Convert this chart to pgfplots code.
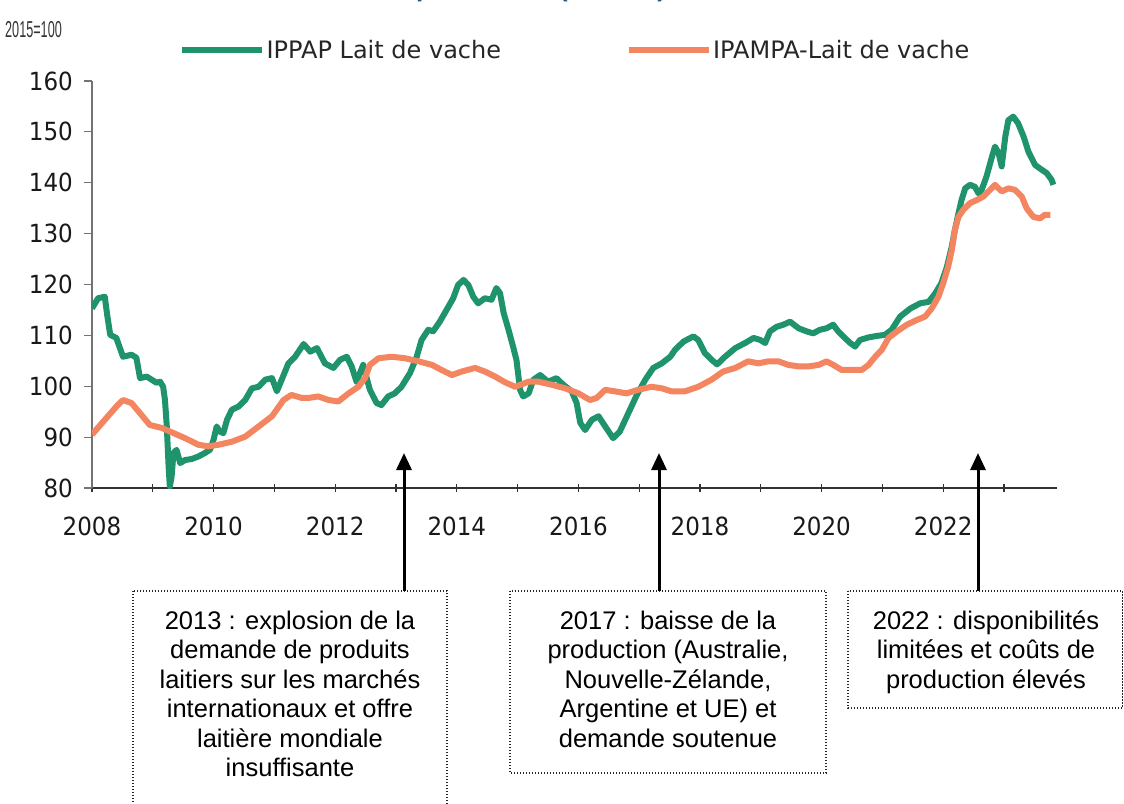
\documentclass[border=0pt]{standalone}
\usepackage{pgfplots}
\pgfplotsset{compat=1.18}
\usepackage{fontspec}
\setmainfont{Liberation Sans}
\newfontfamily\tickfont[FakeStretch=0.92]{DejaVu Sans}
\newfontfamily\legfont{DejaVu Sans}
\newfontfamily\unitfont[FakeStretch=0.55]{Liberation Sans}
\newfontfamily\titlefont{Liberation Sans}
\usetikzlibrary{arrows.meta}
\definecolor{cgreen}{RGB}{30,147,108}
\definecolor{corange}{RGB}{243,134,96}
\definecolor{ctitle}{RGB}{30,90,130}

\pgfplotstableread{
x y
2008.00 115.3
2008.10 117.3
2008.21 117.6
2008.25 114.0
2008.30 110.1
2008.40 109.5
2008.51 105.8
2008.65 106.2
2008.73 105.6
2008.79 101.6
2008.90 101.9
2008.98 101.3
2009.06 100.7
2009.12 100.9
2009.17 99.9
2009.20 97.3
2009.23 92.1
2009.26 84.2
2009.28 80.3
2009.31 82.3
2009.34 86.9
2009.39 87.5
2009.45 84.9
2009.53 85.5
2009.64 85.7
2009.75 86.2
2009.86 86.9
2009.94 87.5
2010.00 89.5
2010.05 92.1
2010.10 91.1
2010.16 90.8
2010.22 93.4
2010.30 95.4
2010.41 96.0
2010.52 97.3
2010.63 99.6
2010.74 99.9
2010.85 101.3
2010.96 101.6
2011.04 99.0
2011.12 101.3
2011.23 104.5
2011.34 105.8
2011.48 108.3
2011.59 106.8
2011.70 107.5
2011.83 104.5
2011.97 103.6
2012.08 105.2
2012.19 105.8
2012.27 103.9
2012.35 100.9
2012.46 104.2
2012.57 99.3
2012.68 96.7
2012.76 96.3
2012.87 98.0
2012.98 98.6
2013.09 99.9
2013.23 102.6
2013.34 105.8
2013.42 109.1
2013.53 111.1
2013.61 110.8
2013.72 112.7
2013.83 115.0
2013.94 117.3
2014.02 119.9
2014.11 120.9
2014.19 119.9
2014.27 117.6
2014.35 116.3
2014.46 117.3
2014.57 117.0
2014.65 119.3
2014.71 118.3
2014.77 114.4
2014.85 111.1
2014.92 108.0
2014.98 105.2
2015.04 99.3
2015.09 98.0
2015.18 98.6
2015.26 101.3
2015.37 102.2
2015.50 100.9
2015.64 101.6
2015.75 100.3
2015.89 99.0
2015.97 96.7
2016.03 92.8
2016.11 91.4
2016.22 93.4
2016.33 94.1
2016.44 92.1
2016.57 89.8
2016.68 91.1
2016.82 94.7
2016.96 98.3
2017.10 101.3
2017.23 103.6
2017.37 104.5
2017.51 105.8
2017.59 107.2
2017.73 108.8
2017.89 109.8
2017.97 109.1
2018.08 106.5
2018.19 105.2
2018.28 104.3
2018.41 105.8
2018.58 107.5
2018.74 108.5
2018.88 109.5
2018.99 109.1
2019.07 108.5
2019.15 110.8
2019.26 111.7
2019.37 112.1
2019.48 112.7
2019.62 111.4
2019.75 110.8
2019.86 110.4
2019.97 111.1
2020.08 111.4
2020.19 112.1
2020.27 110.8
2020.38 109.5
2020.47 108.5
2020.55 107.8
2020.63 109.1
2020.77 109.6
2020.91 109.9
2021.04 110.1
2021.15 111.1
2021.29 113.7
2021.46 115.3
2021.62 116.3
2021.76 116.6
2021.87 118.3
2021.97 120.3
2022.06 123.5
2022.14 127.5
2022.19 130.7
2022.25 134.0
2022.30 136.6
2022.36 138.9
2022.44 139.6
2022.52 139.2
2022.58 137.9
2022.63 138.6
2022.71 141.2
2022.80 145.1
2022.85 147.1
2022.91 145.8
2022.96 143.2
2023.02 149.1
2023.07 152.3
2023.15 153.0
2023.23 151.7
2023.32 149.1
2023.40 146.1
2023.51 143.5
2023.59 142.8
2023.70 141.9
2023.78 140.6
2023.81 139.6
}\ippap

\pgfplotstableread{
x y
2008.00 90.5
2008.21 93.4
2008.40 96.0
2008.51 97.3
2008.65 96.7
2008.79 94.7
2008.95 92.4
2009.15 91.8
2009.34 90.8
2009.53 89.8
2009.75 88.5
2009.91 88.2
2010.08 88.5
2010.30 89.1
2010.52 90.1
2010.74 92.1
2010.96 94.1
2011.15 97.3
2011.28 98.3
2011.45 97.7
2011.56 97.7
2011.72 98.0
2011.89 97.3
2012.05 97.0
2012.22 98.6
2012.38 99.9
2012.49 101.6
2012.57 104.2
2012.71 105.5
2012.93 105.8
2013.15 105.5
2013.37 104.9
2013.59 104.2
2013.75 103.2
2013.92 102.2
2014.08 102.9
2014.30 103.6
2014.46 102.9
2014.63 101.9
2014.79 100.8
2014.96 99.9
2015.18 100.9
2015.34 100.9
2015.56 100.3
2015.78 99.6
2016.00 98.6
2016.19 97.3
2016.30 97.7
2016.44 99.3
2016.60 99.0
2016.79 98.6
2016.98 99.3
2017.20 99.9
2017.37 99.6
2017.53 99.0
2017.75 99.0
2017.97 99.9
2018.19 101.3
2018.38 102.9
2018.58 103.6
2018.79 104.9
2018.96 104.5
2019.12 104.9
2019.29 104.9
2019.45 104.2
2019.62 103.9
2019.78 103.9
2019.95 104.2
2020.08 104.9
2020.19 104.2
2020.33 103.2
2020.49 103.2
2020.66 103.2
2020.77 104.2
2020.88 105.8
2020.99 107.2
2021.10 109.5
2021.24 110.8
2021.40 112.1
2021.56 113.0
2021.70 113.7
2021.81 115.3
2021.92 117.6
2022.00 120.3
2022.08 123.5
2022.14 126.8
2022.19 130.7
2022.25 133.3
2022.33 134.7
2022.44 136.0
2022.55 136.6
2022.66 137.3
2022.77 138.6
2022.85 139.6
2022.96 138.3
2023.07 138.9
2023.18 138.6
2023.29 137.3
2023.37 135.0
2023.48 133.3
2023.59 133.0
2023.67 133.7
2023.76 133.7
}\ipampa

\begin{document}
\begin{tikzpicture}
\useasboundingbox (0pt,0pt) rectangle (1124pt,-803pt);
% title (mostly cut off at the top of the picture)
\node[anchor=base east, inner sep=0pt, text=ctitle, font=\titlefont\bfseries\fontsize{26}{30}\selectfont] at (418pt,4pt) {Lait de vache : indices \`a la};
\node[anchor=base west, inner sep=0pt, text=ctitle, font=\titlefont\bfseries\fontsize{26}{30}\selectfont] at (416pt,4pt) {production (indices)};
% unit
\node[anchor=west, inner sep=0pt, text=black!80, font=\unitfont\fontsize{23}{23}\selectfont] at (5pt,-30pt) {2015=100};
\begin{axis}[
  at={(92pt,-488pt)}, anchor=south west,
  scale only axis, width=965pt, height=407pt,
  xmin=2008, xmax=2023.87, ymin=80, ymax=160,
  axis x line*=bottom, axis y line*=left,
  x axis line style={black!80, line width=1.3pt},
  y axis line style={black!55, line width=1.1pt},
  xtick={2008,...,2023},
  xticklabels={2008,,2010,,2012,,2014,,2016,,2018,,2020,,2022,},
  ytick={80,90,...,160},
  xtick align=center, ytick align=outside,
  major tick length=8pt,
  xtick style={black!80, line width=1.2pt},
  ytick style={black!55, line width=1.1pt},
  /pgf/number format/assume math mode=true,
  tick label style={font=\tickfont\fontsize{25}{28}\selectfont, text=black!90},
  yticklabel style={anchor=east, inner sep=0pt, xshift=-11pt},
  xticklabel style={anchor=north, inner sep=0pt, yshift=-25pt},
  legend style={at={(axis description cs:0.087,1.076)}, anchor=west, draw=none, fill=none,
    font=\legfont\fontsize{24}{28}\selectfont, text=black!85,
    nodes={inner sep=1.5pt},
    /tikz/every even column/.append style={column sep=123pt}},
  legend columns=2,
  legend cell align=left,
  legend image code/.code={\draw[#1] (0pt,0pt) -- (80pt,0pt);},
]
\addplot[cgreen, line width=6pt, line join=round] table[x=x,y=y] {\ippap};
\addlegendentry{IPPAP Lait de vache}
\addplot[corange, line width=6pt, line join=round] table[x=x,y=y] {\ipampa};
\addlegendentry{IPAMPA-Lait de vache}
\end{axis}
% annotation boxes
\tikzset{dotbox/.style={draw=black!85, line width=1.3pt, dash pattern=on 1.4pt off 1.6pt}}
\draw[dotbox] (133pt,-591pt) rectangle (447pt,-815pt);
\draw[dotbox] (510pt,-591pt) rectangle (826pt,-773pt);
\draw[dotbox] (848pt,-591pt) rectangle (1122.5pt,-708pt);
\tikzset{arr/.style={line width=3pt, -{Triangle[width=15pt,length=17pt]}}}
\draw[arr] (404pt,-591pt) -- (404pt,-453pt);
\draw[arr] (659pt,-591pt) -- (659pt,-453pt);
\draw[arr] (978pt,-591pt) -- (978pt,-453pt);
\tikzset{ann/.style={anchor=base, inner sep=0pt, font=\fontsize{25.5}{29}\selectfont}}
\node[ann] at (290pt,-629pt) {2013 : explosion de la};
\node[ann] at (290pt,-658.5pt) {demande de produits};
\node[ann] at (290pt,-688pt) {laitiers sur les march\'es};
\node[ann] at (290pt,-717.5pt) {internationaux et offre};
\node[ann] at (290pt,-747pt) {laiti\`ere mondiale};
\node[ann] at (290pt,-776.5pt) {insuffisante};
\node[ann] at (668pt,-629pt) {2017 : baisse de la};
\node[ann] at (668pt,-658.5pt) {production (Australie,};
\node[ann] at (668pt,-688pt) {Nouvelle-Z\'elande,};
\node[ann] at (668pt,-717.5pt) {Argentine et UE) et};
\node[ann] at (668pt,-747pt) {demande soutenue};
\node[ann] at (986pt,-629pt) {2022 : disponibilit\'es};
\node[ann] at (986pt,-658.5pt) {limit\'ees et co\^uts de};
\node[ann] at (986pt,-688pt) {production \'elev\'es};
\end{tikzpicture}
\end{document}
